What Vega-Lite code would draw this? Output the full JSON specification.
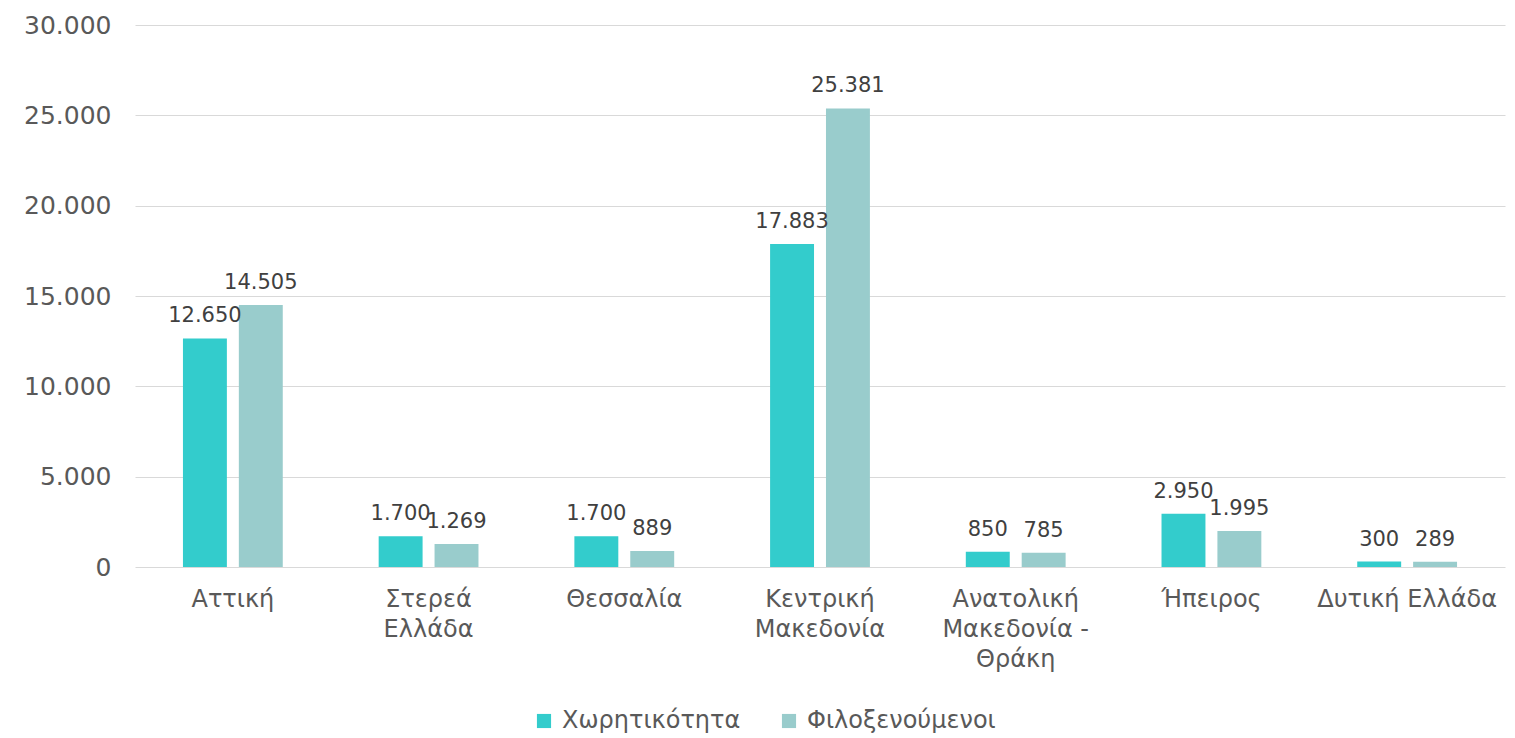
{
  "$schema": "https://vega.github.io/schema/vega-lite/v6.json",
  "width": 1370,
  "height": 542,
  "autosize": {"type": "none"},
  "padding": {"left": 135, "top": 25, "right": 10, "bottom": 171},
  "background": "white",
  "config": {
    "locale": {"number": {"decimal": ",", "thousands": ".", "grouping": [3], "currency": ["", " €"]}},
    "view": {"stroke": null},
    "font": "DejaVu Sans"
  },
  "data": {
    "values": [
      {"region": "Αττική", "series": "Χωρητικότητα", "value": 12650},
      {"region": "Αττική", "series": "Φιλοξενούμενοι", "value": 14505},
      {"region": "Στερεά|Ελλάδα", "series": "Χωρητικότητα", "value": 1700},
      {"region": "Στερεά|Ελλάδα", "series": "Φιλοξενούμενοι", "value": 1269},
      {"region": "Θεσσαλία", "series": "Χωρητικότητα", "value": 1700},
      {"region": "Θεσσαλία", "series": "Φιλοξενούμενοι", "value": 889},
      {"region": "Κεντρική|Μακεδονία", "series": "Χωρητικότητα", "value": 17883},
      {"region": "Κεντρική|Μακεδονία", "series": "Φιλοξενούμενοι", "value": 25381},
      {"region": "Ανατολική|Μακεδονία -|Θράκη", "series": "Χωρητικότητα", "value": 850},
      {"region": "Ανατολική|Μακεδονία -|Θράκη", "series": "Φιλοξενούμενοι", "value": 785},
      {"region": "Ήπειρος", "series": "Χωρητικότητα", "value": 2950},
      {"region": "Ήπειρος", "series": "Φιλοξενούμενοι", "value": 1995},
      {"region": "Δυτική Ελλάδα", "series": "Χωρητικότητα", "value": 300},
      {"region": "Δυτική Ελλάδα", "series": "Φιλοξενούμενοι", "value": 289}
    ]
  },
  "encoding": {
    "x": {
      "field": "region", "type": "nominal", "sort": null,
      "scale": {"paddingInner": 0.49, "paddingOuter": 0.245},
      "axis": {
        "title": null, "labelAngle": 0, "domain": false, "ticks": false,
        "labelExpr": "split(datum.label, '|')",
        "labelFontSize": 24, "labelColor": "#595959", "labelPadding": 20,
        "labelLineHeight": 30, "labelBaseline": "top", "labelLimit": 300
      }
    },
    "xOffset": {
      "field": "series", "type": "nominal",
      "sort": ["Χωρητικότητα", "Φιλοξενούμενοι"],
      "scale": {"paddingInner": 0.214}
    },
    "y": {
      "field": "value", "type": "quantitative",
      "scale": {"domain": [0, 30000], "nice": false},
      "axis": {
        "title": null, "values": [0, 5000, 10000, 15000, 20000, 25000, 30000],
        "format": ",d", "domain": false, "ticks": false, "labelOverlap": false,
        "labelFontSize": 25, "labelColor": "#595959", "labelPadding": 24,
        "gridColor": "#D9D9D9", "gridWidth": 1
      }
    }
  },
  "layer": [
    {
      "mark": {"type": "bar"},
      "encoding": {
        "color": {
          "field": "series", "type": "nominal",
          "sort": ["Χωρητικότητα", "Φιλοξενούμενοι"],
          "scale": {"domain": ["Χωρητικότητα", "Φιλοξενούμενοι"], "range": ["#33CCCC", "#99CCCC"]},
          "legend": {
            "title": null, "orient": "none", "direction": "horizontal",
            "legendX": 397, "legendY": 684,
            "symbolType": "square", "symbolSize": 200, "symbolStrokeWidth": 0,
            "labelFontSize": 24, "labelColor": "#595959", "columnPadding": 36,
            "labelOffset": 6, "labelLimit": 300
          }
        }
      }
    },
    {
      "mark": {"type": "text", "dy": -12, "fontSize": 21, "color": "#404040", "baseline": "bottom"},
      "encoding": {
        "text": {"field": "value", "type": "quantitative", "format": ",d"}
      }
    }
  ]
}
